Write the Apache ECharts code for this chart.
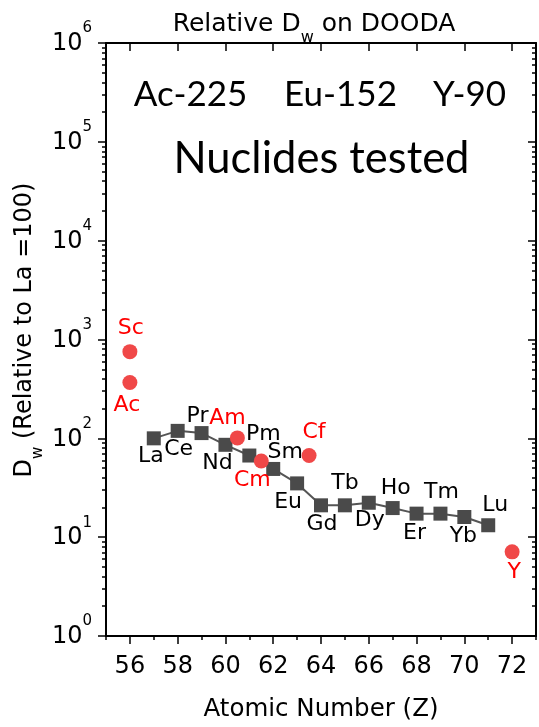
<!DOCTYPE html>
<html>
<head>
<meta charset="utf-8">
<script src="https://cdn.jsdelivr.net/npm/echarts@6/dist/echarts.min.js"></script>
<style>html,body{margin:0;padding:0;background:#fff}#c{width:539px;height:727px}</style>
</head>
<body>
<div id="c"></div>
<script>
// ---- data ----
const lnZ = [57, 58, 59, 60, 61, 62, 63, 64, 65, 66, 67, 68, 69, 70, 71];
const lnNames = ['La','Ce','Pr','Nd','Pm','Sm','Eu','Gd','Tb','Dy','Ho','Er','Tm','Yb','Lu'];
const lnDw = [100, 119, 113, 86, 67, 49, 35, 21, 21, 22.3, 19.7, 17.3, 17.3, 16, 13.2];
const otherZ = [56, 56, 60.5, 61.5, 63.5, 72];
const otherNames = ['Sc','Ac','Am','Cm','Cf','Y'];
const otherDw = [753, 367, 101, 59, 67, 7.1];
const xTickValues = [56, 58, 60, 62, 64, 66, 68, 70, 72];
const yExponents = [0, 1, 2, 3, 4, 5, 6];
const nuclides = ['Ac-225', 'Eu-152', 'Y-90'];

// ---- styling (label offsets in px, not data) ----
const lnLabelOffsets = [[-3,18],[1,18],[-4,-17],[-8,18],[14,-21],[12,-17],[-9,19],[1,19],[0,-22],[1,18],[3,-20],[-2,20],[1,-21],[-1,19],[7,-20]];
const otherLabelOffsets = [[1,-23],[-3,23],[-10,-20],[-9,19],[5,-23],[2,20]];

const FF = 'DejaVu Sans';
const minorLog = [];
for (let n = 0; n < 6; n++) for (let k = 2; k <= 9; k++) minorLog.push(n + Math.log10(k));

const chart = echarts.init(document.getElementById('c'), null, {renderer: 'canvas'});
const gridBox = {left: 106, top: 43, width: 431, height: 595};
const tickStyle = {color: '#000', width: 1.5};
const frameLine = {show: true, onZero: false, lineStyle: {color: '#000', width: 2}};
const noLine = {show: false, onZero: false};

const option = {
  animation: false,
  backgroundColor: '#fff',
  grid: Object.assign({containLabel: false}, gridBox),
  xAxis: [
    {type: 'value', min: 55, max: 73, interval: 1, position: 'bottom',
     axisLine: frameLine, axisTick: {length: 4, lineStyle: tickStyle},
     axisLabel: {formatter: v => (v % 2 === 0 ? String(v) : ''), fontSize: 24, fontFamily: FF, color: '#000', margin: 19},
     splitLine: {show: false},
     name: 'Atomic Number (Z)', nameLocation: 'middle', nameGap: 61,
     nameTextStyle: {fontSize: 24.5, fontFamily: FF, color: '#000'}},
    {type: 'value', min: 55, max: 73, position: 'bottom',
     axisLine: noLine, axisTick: {customValues: xTickValues, length: 8, lineStyle: tickStyle},
     axisLabel: {show: false}, splitLine: {show: false}},
    {type: 'value', min: 55, max: 73, position: 'top',
     axisLine: frameLine, axisTick: {customValues: xTickValues, length: 8, inside: true, lineStyle: tickStyle},
     axisLabel: {show: false}, splitLine: {show: false}}
  ],
  yAxis: [
    {type: 'log', logBase: 10, min: 1, max: 1e6, show: false, splitLine: {show: false}},
    {type: 'value', min: 0, max: 6, interval: 1, position: 'left',
     axisLine: frameLine, axisTick: {length: 8, lineStyle: tickStyle},
     axisLabel: {
       margin: 14, color: '#000', verticalAlign: 'middle', padding: [0, 0, 20, 0],
       formatter: v => '{b|10}{s|' + yExponents[v] + '}',
       rich: {
         b: {fontSize: 24, fontFamily: FF, color: '#000', lineHeight: 24, verticalAlign: 'top', padding: [11, 0, 0, 0]},
         s: {fontSize: 15, fontFamily: FF, color: '#000', lineHeight: 15, verticalAlign: 'top'}
       }
     },
     splitLine: {show: false}},
    {type: 'value', min: 0, max: 6, position: 'left',
     axisLine: noLine, axisTick: {customValues: minorLog, length: 4, lineStyle: tickStyle},
     axisLabel: {show: false}, splitLine: {show: false}},
    {type: 'value', min: 0, max: 6, interval: 1, position: 'right',
     axisLine: frameLine, axisTick: {length: 8, inside: true, lineStyle: tickStyle},
     axisLabel: {show: false}, splitLine: {show: false}},
    {type: 'value', min: 0, max: 6, position: 'right',
     axisLine: noLine, axisTick: {customValues: minorLog, length: 4, inside: true, lineStyle: tickStyle},
     axisLabel: {show: false}, splitLine: {show: false}}
  ],
  series: [
    {type: 'line', xAxisIndex: 0, yAxisIndex: 0, z: 3,
     symbol: 'rect', symbolSize: 14,
     itemStyle: {color: '#4a4a4a'},
     lineStyle: {color: '#555', width: 2},
     label: {show: true, position: 'inside', formatter: p => p.name, color: '#000', fontSize: 22, fontFamily: FF},
     data: lnZ.map((z, i) => ({value: [z, lnDw[i]], name: lnNames[i], label: {offset: lnLabelOffsets[i]}}))},
    {type: 'scatter', xAxisIndex: 0, yAxisIndex: 0, z: 4,
     symbol: 'circle', symbolSize: 15,
     itemStyle: {color: '#f04848', opacity: 1},
     label: {show: true, position: 'inside', formatter: p => p.name, color: '#ff0000', fontSize: 22, fontFamily: FF},
     data: otherZ.map((z, i) => ({value: [z, otherDw[i]], name: otherNames[i], label: {offset: otherLabelOffsets[i]}}))}
  ],
  graphic: [
    {type: 'text', x: 314, y: 25,
     style: {text: '{a|Relative D}{s|w}{a| on DOODA}', align: 'center', verticalAlign: 'middle',
       rich: {a: {fontSize: 25, fontFamily: FF, fill: '#000', lineHeight: 26, verticalAlign: 'top'},
              s: {fontSize: 16, fontFamily: FF, fill: '#000', lineHeight: 16, verticalAlign: 'top', padding: [18, 0, 0, 0]}}}},
    {type: 'text', x: 25, y: 330, rotation: Math.PI / 2,
     style: {text: '{a|D}{s|w}{a| (Relative to La =100)}', align: 'center', verticalAlign: 'middle',
       rich: {a: {fontSize: 24, fontFamily: FF, fill: '#000', lineHeight: 24, verticalAlign: 'top'},
              s: {fontSize: 15, fontFamily: FF, fill: '#000', lineHeight: 15, verticalAlign: 'top', padding: [18, 0, 0, 0]}}}},
    {type: 'text', x: 190.5, y: 95, style: {text: nuclides[0], fontSize: 35, fontFamily: 'Lato', fill: '#000', align: 'center', verticalAlign: 'middle'}},
    {type: 'text', x: 340.5, y: 95, style: {text: nuclides[1], fontSize: 35, fontFamily: 'Lato', fill: '#000', align: 'center', verticalAlign: 'middle'}},
    {type: 'text', x: 469.5, y: 95, style: {text: nuclides[2], fontSize: 35, fontFamily: 'Lato', fill: '#000', align: 'center', verticalAlign: 'middle'}},
    {type: 'text', x: 321.5, y: 159, style: {text: 'Nuclides tested', fontSize: 43.5, fontFamily: 'Lato', fill: '#000', align: 'center', verticalAlign: 'middle'}}
  ]
};
chart.setOption(option);
</script>
</body>
</html>
